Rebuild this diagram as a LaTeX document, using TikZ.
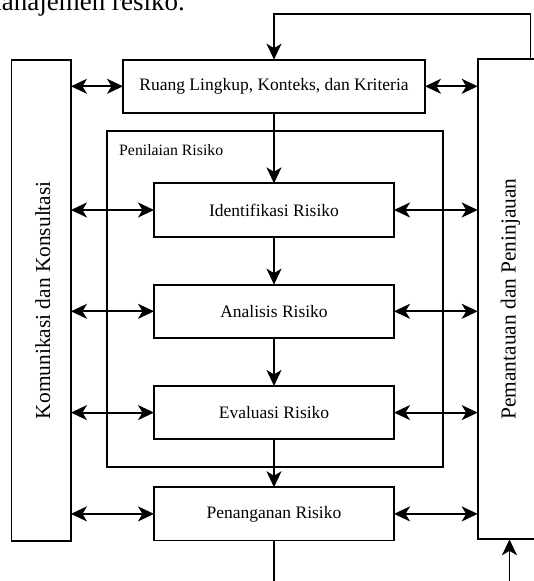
\documentclass[tikz,border=0pt]{standalone}
\usepackage{fontspec}
\setmainfont{Liberation Serif}
\usetikzlibrary{positioning,arrows.meta}
\tikzset{box/.style={draw,rectangle,line width=1.8pt,outer sep=0pt,minimum width=240pt,minimum height=53.3pt,font=\fontsize{17.5}{20}\selectfont},side/.style={draw,rectangle,line width=1.8pt,outer sep=0pt,minimum width=59.5pt,minimum height=481pt},arr/.style={-{Stealth[length=16pt,width=15pt,inset=4.5pt]},line width=1.8pt},darr/.style={{Stealth[length=16pt,width=15pt,inset=4.5pt]}-{Stealth[length=16pt,width=15pt,inset=4.5pt]},line width=1.8pt}}

\begin{document}
\begin{tikzpicture}[x=1pt,y=-1pt,node distance=48pt]
\useasboundingbox (0,0) rectangle (534,581);
\node[anchor=base east,inner sep=0pt,font=\fontsize{27}{30}\selectfont] (judul) at (185,10) {manajemen resiko.};
\node[box,minimum width=302pt] (lingkup) at (274,86.3) {Ruang Lingkup, Konteks, dan Kriteria};
\node[box,below=70.4pt of lingkup] (identifikasi) {Identifikasi Risiko};
\node[box,below=of identifikasi] (analisis) {Analisis Risiko};
\node[box,below=of analisis] (evaluasi) {Evaluasi Risiko};
\node[box,below=of evaluasi] (penanganan) {Penanganan Risiko};
\node[draw,line width=1.8pt,outer sep=0pt,minimum width=336.6pt,minimum height=336.3pt] (penilaian) at (275,298.85) {};
\node[anchor=base west,inner sep=0pt,font=\fontsize{15.8}{18}\selectfont] (penilaianjudul) at ([xshift=12.3pt,yshift=-24.3pt]penilaian.north west) {Penilaian Risiko};
\node[side] (komunikasi) at (41.2,300.2) {};
\node[rotate=90,font=\fontsize{21.4}{24}\selectfont] (komunikasijudul) at ([xshift=1.5pt]komunikasi.center) {Komunikasi dan Konsultasi};
\node[side,minimum width=63.6pt,minimum height=480.6pt] (pemantauan) at (509.5,299) {};
\node[rotate=90,font=\fontsize{21.4}{24}\selectfont] (pemantauanjudul) at ([xshift=1pt]pemantauan.center) {Pemantauan dan Peninjauan};
\coordinate (putar) at (530.5,14);
\coordinate (keluar) at (274,590);
\coordinate (masuk) at (509.5,590);
\draw[arr] (putar |- pemantauan.north) -- (putar) -| (lingkup.north);
\draw[arr] (lingkup) -- (identifikasi);
\draw[arr] (identifikasi) -- (analisis);
\draw[arr] (analisis) -- (evaluasi);
\draw[arr] (evaluasi) -- (penanganan);
\draw[line width=1.8pt] (penanganan) -- (keluar);
\draw[arr] (masuk) -- (pemantauan.south);
\draw[darr] (komunikasi.east |- lingkup.west) -- (lingkup.west);
\draw[darr] (lingkup.east) -- (pemantauan.west |- lingkup.east);
\draw[darr] (komunikasi.east |- identifikasi.west) -- (identifikasi.west);
\draw[darr] (identifikasi.east) -- (pemantauan.west |- identifikasi.east);
\draw[darr] (komunikasi.east |- analisis.west) -- (analisis.west);
\draw[darr] (analisis.east) -- (pemantauan.west |- analisis.east);
\draw[darr] (komunikasi.east |- evaluasi.west) -- (evaluasi.west);
\draw[darr] (evaluasi.east) -- (pemantauan.west |- evaluasi.east);
\draw[darr] (komunikasi.east |- penanganan.west) -- (penanganan.west);
\draw[darr] (penanganan.east) -- (pemantauan.west |- penanganan.east);
\end{tikzpicture}
\end{document}
